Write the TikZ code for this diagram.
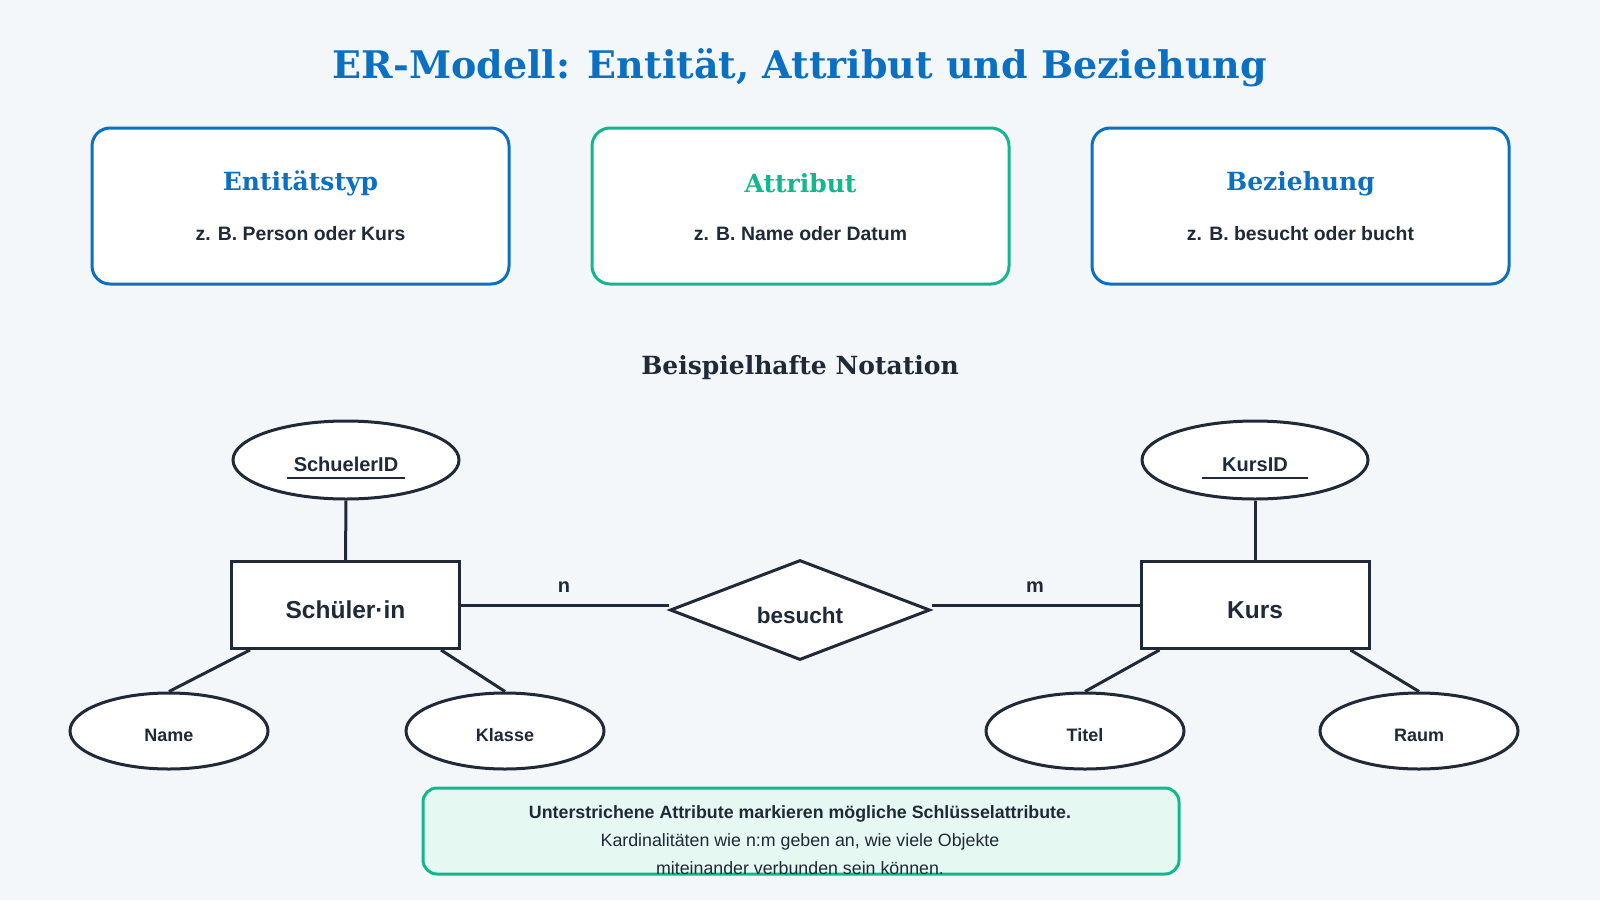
\documentclass[tikz,border=0pt]{standalone}
\usepackage{fontspec}
\setmainfont{Liberation Sans}
\newfontfamily\slabfont{DejaVu Serif}
\usetikzlibrary{shapes.geometric}

\definecolor{erblau}{RGB}{11,111,194}
\definecolor{ergruen}{RGB}{16,185,140}
\definecolor{ertext}{RGB}{31,41,55}
\definecolor{erhintergrund}{RGB}{244,247,250}
\definecolor{erhinweis}{RGB}{230,248,242}

\tikzset{
  kasten/.style={draw=#1, rounded corners=18pt, line width=3pt, fill=white,
    minimum width=417pt, minimum height=156pt},
  kastentitel/.style={text=#1, font=\slabfont\bfseries\fontsize{25}{30}\selectfont},
  kastentext/.style={text=ertext, font=\bfseries\fontsize{19.4}{23}\selectfont},
  entitaet/.style={draw=ertext, line width=3pt, fill=white, minimum width=228pt,
    minimum height=87pt, text=ertext, text height=27pt, text depth=0pt,
    font=\bfseries\fontsize{24.5}{28}\selectfont},
  attribut/.style={ellipse, draw=ertext, line width=3pt, fill=white, inner sep=0pt,
    minimum width=198pt, minimum height=76pt, text=ertext,
    text height=21pt, text depth=0pt,
    font=\bfseries\fontsize{18}{22}\selectfont},
  schluessel/.style={attribut, minimum width=226pt, minimum height=78pt,
    text height=22.5pt, font=\bfseries\fontsize{20}{24}\selectfont},
  beziehung/.style={diamond, aspect=2.6, draw=ertext, line width=3pt, fill=white,
    inner sep=0pt, minimum width=260pt, minimum height=100pt, text=ertext,
    text height=26pt, text depth=0pt,
    font=\bfseries\fontsize{22.5}{26}\selectfont},
  verbindung/.style={draw=ertext, line width=3pt},
  kardinal/.style={text=ertext, font=\bfseries\fontsize{20}{24}\selectfont},
  hinweistext/.style={text=ertext, font=\fontsize{17.8}{21}\selectfont},
}

\begin{document}
\begin{tikzpicture}[x=1pt, y=-1pt]
  \useasboundingbox (0,0) rectangle (1600,900);
  \fill[erhintergrund] (0,0) rectangle (1600,900);

  % Titel
  \node[text=erblau, font=\slabfont\bfseries\fontsize{38}{44}\selectfont] (titel) at (800,68)
    {ER-Modell: Entität, Attribut und Beziehung};

  % Kasten 1: Entitätstyp
  \node[kasten=erblau] (kastenentitaet) at (300.5,206) {};
  \node[kastentitel=erblau] (entitaettitel) at (300.5,183) {Entitätstyp};
  \node[kastentext] (entitaettext) at (300.5,234) {z. B. Person oder Kurs};

  % Kasten 2: Attribut
  \node[kasten=ergruen] (kastenattribut) at (800.5,206) {};
  \node[kastentitel=ergruen] (attributtitel) at (800.5,183) {Attribut};
  \node[kastentext] (attributtext) at (800.5,234) {z. B. Name oder Datum};

  % Kasten 3: Beziehung
  \node[kasten=erblau] (kastenbeziehung) at (1300.5,206) {};
  \node[kastentitel=erblau] (beziehungtitel) at (1300.5,184) {Beziehung};
  \node[kastentext] (beziehungtext) at (1300.5,234) {z. B. besucht oder bucht};

  % Beispielhafte Notation
  \node[text=ertext, font=\slabfont\bfseries\fontsize{25}{30}\selectfont] (notation) at (800,368)
    {Beispielhafte Notation};

  % Entitäten und Beziehung
  \node[entitaet] (schueler) at (345.5,605) {Schüler·in};
  \node[entitaet] (kurs) at (1255,605) {Kurs};
  \node[beziehung] (besucht) at (800,610) {besucht};

  % Schlüsselattribute (unterstrichen)
  \node[schluessel] (schuelerid) at (346,460) {SchuelerID};
  \node[schluessel] (kursid) at (1255,460) {KursID};
  \draw[ertext, line width=2.5pt] ([xshift=-59pt, yshift=-18pt]schuelerid.center)
    -- ([xshift=59pt, yshift=-18pt]schuelerid.center);
  \draw[ertext, line width=2.5pt] ([xshift=-53pt, yshift=-18pt]kursid.center)
    -- ([xshift=53pt, yshift=-18pt]kursid.center);

  % weitere Attribute
  \node[attribut] (name) at (169,731) {Name};
  \node[attribut] (klasse) at (505,731) {Klasse};
  \node[attribut] (titelattr) at (1085,731) {Titel};
  \node[attribut] (raum) at (1419,731) {Raum};

  % Verbindungen
  \draw[verbindung] (schuelerid.south) -- (schueler.north);
  \draw[verbindung] (kursid.south) -- (kurs.north);
  \draw[verbindung] ([xshift=20pt]schueler.south west) -- (name.north);
  \draw[verbindung] ([xshift=-20pt]schueler.south east) -- (klasse.north);
  \draw[verbindung] ([xshift=20pt]kurs.south west) -- (titelattr.north);
  \draw[verbindung] ([xshift=-20pt]kurs.south east) -- (raum.north);
  \draw[verbindung] (schueler.east) -- (schueler.east -| besucht.west);
  \draw[verbindung] (kurs.west -| besucht.east) -- (kurs.west);

  % Kardinalitäten
  \node[kardinal] (kardn) at (564,587) {n};
  \node[kardinal] (kardm) at (1035,587) {m};

  % Hinweis
  \node[draw=ergruen, fill=erhinweis, rounded corners=14pt, line width=3pt,
    minimum width=756pt, minimum height=86pt] (hinweis) at (801,831) {};
  \node[hinweistext, font=\bfseries\fontsize{17.8}{21}\selectfont] (hinweiseins) at (800,814)
    {Unterstrichene Attribute markieren mögliche Schlüsselattribute.};
  \node[hinweistext] (hinweiszwei) at (800,842)
    {Kardinalitäten wie n:m geben an, wie viele Objekte};
  \node[hinweistext] (hinweisdrei) at (800,868)
    {miteinander verbunden sein können.};
\end{tikzpicture}
\end{document}
